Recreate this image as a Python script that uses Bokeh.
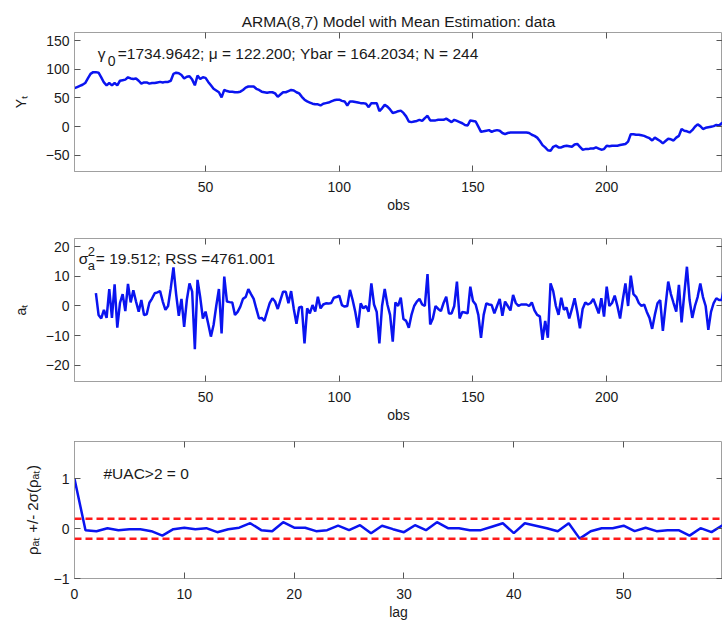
from bokeh.plotting import figure
from bokeh.layouts import column
from bokeh.models import Range1d, LinearAxis, FixedTicker, Label, Span
from bokeh.embed import file_html
from bokeh.resources import INLINE

# ---------------- data ----------------
Y = [67, 69, 71, 73, 76, 84, 92, 95, 95, 94,
     86, 77, 72, 76, 72, 76, 72, 80, 81, 82,
     86, 84, 83, 84, 80, 75, 77, 77, 75, 76,
     76, 77, 78, 77, 78, 78, 80, 92, 94, 93,
     90, 84, 87, 88, 82, 72, 89, 83, 86, 85,
     78, 72, 66, 63, 60, 51, 64, 62, 61, 61,
     60, 60, 61, 64, 68, 70, 70, 70, 66, 64,
     61, 60, 59, 60, 60, 58, 52, 56, 60, 60,
     62, 64, 63, 60, 58, 52, 47, 44, 42, 40,
     39, 39, 37, 40, 41, 42, 44, 46, 47, 47,
     45, 44, 37, 44, 44, 43, 42, 41, 41, 40,
     34, 41, 41, 41, 27, 32, 38, 35, 30, 24,
     25, 27, 28, 24, 18, 9, 8, 9, 10, 12,
     10, 15, 19, 11, 11, 11, 12, 12, 12, 14,
     11, 8, 12, 10, 8, 6, 3, 2, 11, 10,
     9, 0, -9, -8, -7, -6, -9, -7, -6, -7,
     -11, -13, -11, -10, -10, -10, -10, -10, -10, -10,
     -11, -14, -16, -19, -25, -32, -36, -41, -42, -35,
     -33, -36, -36, -34, -33, -34, -35, -31, -30, -35,
     -40, -39, -39, -38, -38, -36, -38, -40, -39, -33,
     -34, -33, -33, -33, -32, -31, -30, -26, -13, -13,
     -14, -14, -15, -16, -18, -20, -24, -19, -22, -25,
     -29, -25, -21, -22, -24, -19, -16, -4, -7, -8,
     -10, -6, 0, 4, 1, -4, -2, -1, 0, 1,
     3, 2, 6, 8]
obs = list(range(1, len(Y) + 1))

resid = [4.3, -3, -4.2, -1.3, -4, 5.7, -4, 7.3, -7.3, 1,
         4, -1.7, 7.4, 1.2, 5.3, 1.5, -1.9, 2, -3, -2.8,
         1.1, 2.5, 4.3, 4.6, 5, 1.5, -1.3, 0, 6, 13,
         4, -3.3, 2.4, -7, 2, 7.6, 4.8, -14.5, 8.8, 3,
         -4.2, -1.9, -6, -10.3, -6.4, 0, 5.7, -9.2, 9.9, 1.5,
         1.3, 1.2, -3, -2, -0.2, 2.4, 3, 5.7, 4, 2.4,
         -1, -4.2, -4, -5, -2, 1, 2.6, 1.5, -1, 2,
         4.8, 4.8, 0.9, 5, -1, -6, -0.5, -0.2, -12.6, -0.8,
         -2.5, 0.3, -1.9, 3.1, -0.8, 0.5, 0.9, 0.8, 1, 2.8,
         3, 3.5, 0.3, -0.2, 0, 5.4, 2, -2, -7.3, 0.9,
         -0.8, 0, -1.9, 7.6, 0.5, -2, -12.6, 0, 5.7, 0.5,
         -3, -12, 1.2, 0, 2.8, -4.4, -5, -7.3, -3, 0,
         1.5, 2.4, 0.5, 0, 10.7, -6.2, -4.2, 0, -1, -1.7,
         1, 3.1, -2.5, -2.5, 0, 8.2, -4.2, -2, -2.2, -2.5,
         6.5, 1.7, 0.5, -3, -10.7, -3, 0.9, 0.5, 0.3, -2.5,
         0, 2.4, -3.3, 1.5, 0, -1.5, 3.7, 1, 0, 0.5,
         0.5, 0.5, 0, 1.2, -1.5, -3, -3.5, -11.4, -5, -10.7,
         7.6, 5, 0, -3, 2.8, -1.3, -0.5, -4.2, -1, 2.6,
         -2, -7.5, -1, 1.2, 0.5, 1, 2.4, 0, -2.5, 2.6,
         -3.6, 6.5, 0, 1, 3.5, 0, -4.2, 2, 7.6, 0,
         10.2, 4, 3.1, 1, 0, 0.5, -2, -4, -7.7, -3,
         0.9, 2, -8.4, 0, 8.2, 4, 1, -1.9, 7.1, -5.5,
         4, 13.2, 2, -4, 0, 3, 7.6, 3, 0, -8,
         -2, 1, 2.6, 2, 2, 7]
obs_a = list(range(9, 9 + len(resid)))

acf = [1, -0.03, -0.05, 0.01, -0.03, -0.01, -0.01, -0.05, -0.14, -0.01,
       0.02, -0.01, 0.01, -0.07, -0.01, 0.02, 0.11, -0.03, -0.05, 0.13,
       0.02, 0.02, -0.05, -0.03, 0.06, -0.03, 0.07, -0.09, 0.06, -0.01,
       -0.07, 0.07, -0.03, 0.13, 0.01, 0.01, -0.03, -0.03, 0.04, 0.11,
       -0.09, 0.11, 0.06, 0.01, -0.05, 0.11, -0.2, -0.05, 0.01, 0.01,
       0.06, -0.05, 0.02, -0.05, -0.03, -0.03, -0.14, 0.01, -0.07, 0.07]
lags = list(range(len(acf)))
conf_band = 0.2

title_text = "ARMA(8,7) Model with Mean Estimation: data"
x_ticks_obs = [50, 100, 150, 200]
x_ticks_lag = [0, 10, 20, 30, 40, 50]
y_ticks_1 = [-50, 0, 50, 100, 150]
y_ticks_2 = [-20, -10, 0, 10, 20]
y_ticks_3 = [-1, 0, 1]

FONT = "Liberation Sans"
FRAME = "#a0a0a0"
TXT = "#1a1a1a"
BLUE = "#0a14f0"
TICK = "#555555"


def style(p, xticks, yticks, xlabel, ylabel, ylabel_standoff=14):
    p.grid.visible = False
    p.outline_line_color = FRAME
    p.outline_line_width = 1
    p.background_fill_color = "white"
    p.border_fill_color = "white"
    for ax in p.xaxis:
        ax.ticker = FixedTicker(ticks=xticks)
        ax.axis_label = xlabel
        ax.major_label_standoff = 10
        ax.axis_label_standoff = 2
    for ax in p.yaxis:
        ax.ticker = FixedTicker(ticks=yticks)
        ax.axis_label = ylabel
        ax.major_label_standoff = 5
        ax.axis_label_standoff = ylabel_standoff
    for ax in p.axis:
        ax.axis_line_color = FRAME
        ax.major_tick_in = 6
        ax.major_tick_out = 0
        ax.major_tick_line_color = TICK
        ax.minor_tick_line_color = None
        ax.major_label_text_font = FONT
        ax.major_label_text_font_size = "14px"
        ax.major_label_text_color = TXT
        ax.axis_label_text_font = FONT
        ax.axis_label_text_font_size = "14px"
        ax.axis_label_text_font_style = "normal"
        ax.axis_label_text_color = TXT
    # mirrored tick marks (no labels) on top and right, as minor ticks only
    top = LinearAxis(ticker=FixedTicker(ticks=[], minor_ticks=xticks),
                     axis_line_color=None, major_tick_line_color=None,
                     minor_tick_in=6, minor_tick_out=0, minor_tick_line_color=TICK,
                     major_label_standoff=0)
    p.add_layout(top, "above")
    right = LinearAxis(ticker=FixedTicker(ticks=[], minor_ticks=yticks),
                       axis_line_color=None, major_tick_line_color=None,
                       minor_tick_in=6, minor_tick_out=0, minor_tick_line_color=TICK,
                       major_label_standoff=0)
    p.add_layout(right, "right")


def label(p, x, y, text, size="15.5px", dx=0, dy=0):
    p.add_layout(Label(x=x, y=y, x_offset=dx, y_offset=dy, text=text, text_font=FONT,
                       text_font_size=size, text_color=TXT, text_baseline="middle"))


# ---------------- panel 1 ----------------
p1 = figure(width=722, height=218, x_range=Range1d(1, 243.3), y_range=Range1d(-78, 164),
            output_backend="svg", toolbar_location=None,
            min_border_left=74, min_border_right=0, min_border_top=32, min_border_bottom=47)
p1.title.text = title_text
p1.title.align = "center"
p1.title.text_font = FONT
p1.title.text_font_size = "15.5px"
p1.title.text_font_style = "normal"
p1.title.text_color = TXT
p1.title.standoff = 6
style(p1, x_ticks_obs, y_ticks_1, "obs", "Yₜ")
p1.line(obs, Y, line_color=BLUE, line_width=2.5)
label(p1, 9.7, 127, "γ")
label(p1, 9.7, 127, "0", size="14px", dx=10, dy=-7)
label(p1, 9.7, 127, "=1734.9642; μ = 122.200; Ybar = 164.2034; N = 244", dx=20)

# ---------------- panel 2 ----------------
p2 = figure(width=722, height=210, x_range=Range1d(1, 243.3), y_range=Range1d(-25.4, 22.7),
            output_backend="svg", toolbar_location=None,
            min_border_left=74, min_border_right=0, min_border_top=20, min_border_bottom=47)
style(p2, x_ticks_obs, y_ticks_2, "obs", "aₜ")
p2.line(obs_a, resid, line_color=BLUE, line_width=2.5)
label(p2, 2.6, 16, "σ")
label(p2, 2.6, 16, "2", size="13px", dx=9, dy=7)
label(p2, 2.6, 16, "a", size="13px", dx=9, dy=-7)
label(p2, 2.6, 16, "= 19.512; RSS =4761.001", dx=17)

# ---------------- panel 3 ----------------
p3 = figure(width=722, height=198, x_range=Range1d(0, 59), y_range=Range1d(-1, 1.75),
            output_backend="svg", toolbar_location=None,
            min_border_left=74, min_border_right=0, min_border_top=13, min_border_bottom=48)
style(p3, x_ticks_lag, y_ticks_3, "lag", "ρₐₜ +/- 2σ(ρₐₜ)", ylabel_standoff=10)
p3.yaxis[0].axis_label_text_font_size = "15px"
p3.add_layout(Span(location=conf_band, dimension="width", line_color="#ff1a1a",
                   line_width=2.5, line_dash="7 4"))
p3.add_layout(Span(location=-conf_band, dimension="width", line_color="#ff1a1a",
                   line_width=2.5, line_dash="7 4"))
p3.line(lags, acf, line_color=BLUE, line_width=2.5)
label(p3, 2.64, 1.11, "#UAC>2 = 0")

layout = column(p1, p2, p3, spacing=0)
open("out.html", "w").write(file_html(layout, INLINE))
